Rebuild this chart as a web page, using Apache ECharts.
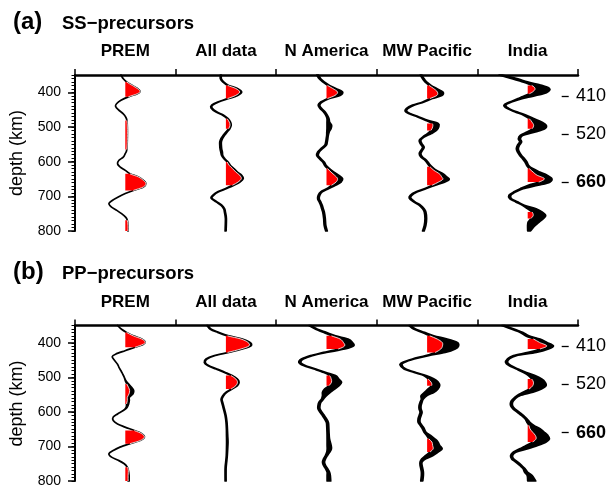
<!DOCTYPE html>
<html>
<head>
<meta charset="utf-8">
<script src="https://cdn.jsdelivr.net/npm/echarts@6/dist/echarts.min.js"></script>
<style>
  html, body { margin: 0; padding: 0; background: #fff; }
  #chart { width: 615px; height: 488px; }
</style>
</head>
<body>
<div id="chart"></div>
<script>
// Stacked receiver-function style traces: [depth km, mean amplitude, half-width of uncertainty]
const COLUMNS = ['PREM', 'All data', 'N America', 'MW Pacific', 'India'];
const DEPTH_TICKS = [400, 500, 600, 700, 800];
const DISCONTINUITIES = [410, 520, 660];

// SS precursors
const ssPrem = [[350,-4.3,0],[361,-2,0],[370,1.3,0],[380,7,0],[389,12,0],[397,14.7,0],[404,12,0],[413,3,0],[423,-4.3,0],[433,-8.7,0],[440,-9.7,0],[450,-7,0],[462,-2,0],[471,0.3,0],[481,1.6,0],[500,2.0,0],[530,2.0,0],[565,1.5,0],[578,-0.3,0],[587,-2,0],[596,-6.3,0],[606,-7.7,0],[615,-5.3,0],[625,0,0],[635,4.7,0],[644,13,0],[654,18,0],[663,20.5,0],[673,18,0],[683,8,0],[692,0,0],[702,-7,0],[712,-13,0],[721,-16.3,0],[731,-13.7,0],[740,-8.7,0],[750,-3.7,0],[760,0.3,0],[769,2,0],[784,2.7,0],[800,2.7,0]];
const ssAll = [[350,-5,0.5],[361,-5,0.5],[370,-2.7,0.5],[380,2.3,0.5],[389,10.7,0.8],[399,14.7,1],[409,10.7,1],[418,2.3,0.6],[428,-7.7,0.5],[437,-13.7,0.5],[445,-14.3,0.5],[457,-9.3,0.5],[466,-2.7,0.5],[476,1.7,0.5],[486,4,0.6],[495,4.7,0.6],[505,3.3,0.6],[514,0.7,0.6],[524,-2,0.7],[534,-4.3,0.8],[543,-5.3,0.8],[553,-5.3,0.8],[563,-5,0.8],[572,-4.3,0.8],[582,-3.7,0.6],[591,-1.7,0.5],[601,1.7,0.5],[611,4,0.6],[620,7.3,0.7],[630,10.7,0.8],[639,14.7,1],[649,16.3,1],[659,13,1],[668,7.3,0.8],[678,-0.3,0.5],[687,-7.7,0.5],[697,-12.7,0.5],[705,-14.3,0.5],[716,-9.3,0.5],[726,-4.3,0.5],[736,-1.7,0.5],[745,-1,0.5],[764,0,0.5],[800,-0.3,0.5]];
const ssNAm = [[350,-8.8,0.8],[361,-6.5,0.8],[370,-3,0.8],[380,2,1],[389,7.8,1.5],[399,13.5,2.5],[409,11,2.5],[418,2,1],[428,-5,0.8],[437,-7.5,0.8],[447,-5.5,0.8],[457,-2,0.8],[466,0,0.8],[476,1.5,1],[486,1.8,1.3],[495,2.8,2.3],[505,2.5,2],[514,1.5,1.2],[524,1,0.8],[534,0.5,0.8],[543,0,0.8],[553,-1,0.8],[563,-5,0.8],[572,-8,0.8],[582,-9,0.8],[591,-6.5,0.8],[601,-3,0.8],[611,-1,0.8],[620,2,1],[630,6,1.5],[639,10,2],[649,13.5,2.5],[659,12,2.5],[668,7,2],[678,1,1],[687,-5,0.8],[697,-7.5,0.8],[707,-8,0.8],[716,-6.5,0.8],[726,-5,0.8],[736,-4,0.8],[745,-3,0.8],[764,-2,0.8],[784,-1.5,0.8],[800,0,0.8]];
const ssMWP = [[350,-6,0.8],[361,-3.7,0.8],[370,-1.3,0.8],[380,3,1],[389,8,1.5],[399,13,2.8],[409,12.2,2.5],[418,4,1.2],[428,-3.7,0.8],[437,-13.7,0.8],[447,-20,0.8],[455,-21,0.8],[462,-17,0.8],[471,-8.7,0.8],[481,-0.3,1],[490,8,3],[500,8.5,3],[510,6.5,2.8],[519,2.3,2],[529,-3.7,0.8],[538,-7,0.8],[548,-6,0.8],[558,-3.7,0.8],[567,-5.3,0.8],[577,-7,0.8],[587,-5.3,0.8],[596,-1.3,0.8],[606,1.3,0.8],[615,4,1],[625,8,1.2],[635,14,1.8],[644,17,2.5],[651,18.8,3.2],[659,14.3,3],[668,6.7,1.7],[678,-2,0.8],[687,-10.3,0.8],[697,-16,0.8],[705,-17,0.8],[716,-12.7,0.8],[726,-7,0.8],[736,-3.7,0.8],[745,-2,0.8],[764,-1.3,0.8],[784,-2,0.8],[800,-3.7,0.8]];
const ssIndia = [[350,-27,1.5],[361,-12.7,3],[370,-2.7,2.5],[380,9,5],[389,14.5,7.2],[397,13.2,7.5],[404,8.7,7],[413,-1.8,4],[418,-7.7,2],[428,-17,1],[437,-22.7,1],[447,-19.3,1],[457,-11,1],[466,-2.7,1.5],[476,4,2.5],[486,9.3,5],[495,12.2,6.3],[505,10.7,6.3],[514,3.7,4],[524,-6,1.5],[534,-8.3,1],[543,-7,1],[553,-9.3,1],[563,-10.3,1],[572,-9.3,1],[582,-7,1],[591,-4.3,1],[601,-1.7,1],[611,0,1],[620,3.3,1.7],[630,8.7,3.3],[639,14.3,5],[649,20.3,3.7],[659,16.5,5.5],[668,5.5,5],[678,-6,1.5],[687,-12.7,1],[697,-17.7,1],[707,-17,1],[716,-11,1],[726,-4.3,1],[736,4.2,4.2],[745,9.3,5],[755,11.7,6.2],[764,9.5,6.3],[774,6,5.5],[784,3.7,3.8],[800,1.3,1.3]];

// PP precursors
const ppPrem = [[350,-7.7,0],[361,-3.7,0],[370,1.3,0],[380,8,0],[389,16.3,0],[397,19.7,0],[404,18,0],[413,9.7,0],[423,-0.3,0],[433,-9.7,0],[440,-13,0],[450,-11,0],[462,-7.7,0],[471,-6.3,0],[481,-4.3,0],[490,-2.7,0],[500,-1,0],[510,0.3,0.3],[519,2.3,0.8],[529,4.7,1.5],[538,6.3,2],[548,5.7,2],[558,3,1],[567,3,1],[577,2.3,1],[587,1.3,0.5],[596,-2,0],[606,-7.7,0],[615,-12,0],[625,-12,0],[635,-7.7,0],[644,-0.3,0],[654,9,0],[663,16.3,0],[673,19,0],[683,14.7,0],[692,4.7,0],[702,-5.3,0],[712,-12,0],[721,-16.3,0],[731,-13.7,0],[740,-7,0],[750,-1,0],[760,2,0],[769,3,0],[784,3.3,0.5],[800,3.3,0.5]];
const ppAll = [[350,-18.3,0.5],[361,-15,0.5],[370,-7.7,0.5],[380,2.3,0.6],[389,15.7,0.8],[399,23,1],[409,24,1],[418,15.7,0.8],[428,2.3,0.6],[437,-11,0.5],[447,-19.3,0.5],[457,-21,0.5],[466,-17.7,0.5],[476,-9.3,0.5],[486,-1,0.5],[495,5.7,0.6],[505,10.7,0.8],[514,12.3,0.8],[524,10.7,0.8],[534,5.7,0.6],[543,0.7,0.5],[553,-2.7,0.5],[563,-4.3,0.5],[572,-3.7,0.5],[591,-2,0.5],[611,-0.3,0.5],[630,0.6,0.5],[649,1.0,0.5],[668,1.2,0.6],[687,1.4,0.7],[707,1.2,0.6],[726,0.9,0.5],[745,0.3,0.5],[764,-0.3,0.5],[800,-0.3,0.5]];
const ppNAm = [[350,-16.5,1],[361,-9.8,1],[370,-1.5,1.2],[380,7,2],[389,17.5,4],[399,21.3,4.5],[409,22.5,4.5],[418,15,3.3],[428,-1.5,1.5],[437,-15,1],[447,-24,1],[457,-26.5,1],[466,-22,1],[476,-11.5,1],[486,-1.5,1.2],[495,6,3],[505,8.5,3.8],[514,10,5],[524,7.5,5],[534,3,5],[543,0,4],[553,-2,2],[563,-4,1],[572,-6.5,1],[582,-7.5,1],[591,-7.5,1],[601,-5.5,1],[611,-3,1],[620,-1,1],[630,0.8,1],[639,1.2,1],[659,1.5,1],[678,1.8,1.2],[697,2.6,2],[707,2.8,2.1],[716,1.8,1.5],[726,0,1],[736,-2,1],[745,-3,1],[755,-2,1],[764,0,1],[774,1.8,1.2],[784,2.2,1.6],[800,2.4,1.8]];
const ppMWP = [[350,-17,1],[361,-12,1],[370,-3.7,1.2],[380,4.7,2],[389,15,5],[399,22.5,7.5],[409,23.3,8],[418,20.8,7.2],[428,13,5],[437,0,1.5],[447,-13.7,1],[457,-23.7,1],[464,-26,1],[476,-22,1],[486,-12,1],[495,-2,1],[505,4,3],[514,7.5,3.5],[524,8.5,4],[534,5.7,5],[543,2.3,4.7],[553,-3,3],[563,-4.7,1],[572,-6,1],[582,-7,1],[591,-7,1],[601,-6,1],[611,-7,1],[620,-8,1],[630,-8,1],[639,-6,1],[649,-3.7,1],[659,-2,1],[668,1.5,2],[678,4.7,3],[687,7.8,3],[697,9,3.5],[707,10.5,4.5],[716,7,4],[726,2.3,3.7],[736,-3.3,2],[745,-6,1],[755,-6,1],[764,-5.3,1],[774,-4.7,1],[784,-4.7,1],[800,-5.3,1]];
const ppIndia = [[350,-24.3,1.5],[361,-14.3,1.5],[370,-6,1.5],[380,-0.3,1.5],[389,9,3.3],[399,15.5,3.7],[409,22.3,3.3],[418,16.5,4.2],[428,4.5,4],[437,-12.7,1.5],[447,-19.3,1],[457,-21,1],[466,-17.7,1],[476,-10.3,1],[486,-2.7,1.5],[495,4,3.3],[505,9,5],[514,11.5,5.8],[524,11.7,6.7],[534,7.5,6.2],[543,0.3,5],[553,-9.3,1.5],[563,-13.7,1],[572,-16,1],[582,-16,1],[591,-13.7,1],[601,-9.3,1],[611,-5,1],[620,-1.7,1],[630,0.7,1.5],[639,3.7,2.5],[649,7.3,5],[659,10.8,5.8],[668,13.8,6.2],[678,15,6.7],[687,11.7,6.7],[697,4.2,5.8],[707,-4.3,3.7],[716,-12.7,1.5],[726,-16,1],[736,-15,1],[745,-11,1],[755,-7,1],[764,-3.7,1],[774,-1.7,1.5],[784,2,2.5],[800,4,4]];

const PANELS = [
  { label: '(a)', title: 'SS\u2212precursors', traces: [ssPrem, ssAll, ssNAm, ssMWP, ssIndia] },
  { label: '(b)', title: 'PP\u2212precursors', traces: [ppPrem, ppAll, ppNAm, ppMWP, ppIndia] }
];

const FONT = 'Liberation Sans, Arial, sans-serif';
const RED_MIN = 0.8;      // lower bound must exceed this to be shaded red
const GRID_TOPS = [75, 325.5];

// Catmull-Rom segment from pts[i] to pts[i+1] as a cubic Bezier command
function seg(pts, i) {
  const p0 = pts[Math.max(i - 1, 0)], p1 = pts[i], p2 = pts[i + 1], p3 = pts[Math.min(i + 2, pts.length - 1)];
  const c1 = [p1[0] + (p2[0] - p0[0]) / 6, p1[1] + (p2[1] - p0[1]) / 6];
  const c2 = [p2[0] - (p3[0] - p1[0]) / 6, p2[1] - (p3[1] - p1[1]) / 6];
  return 'C' + c1[0].toFixed(2) + ',' + c1[1].toFixed(2) + ' ' + c2[0].toFixed(2) + ',' + c2[1].toFixed(2) + ' ' + p2[0].toFixed(2) + ',' + p2[1].toFixed(2);
}
const pt = p => p[0].toFixed(2) + ',' + p[1].toFixed(2);

function traceSeries(rows, col, g) {
  return {
    type: 'custom',
    coordinateSystem: 'cartesian2d',
    xAxisIndex: g * 2,
    yAxisIndex: g * 3,
    silent: true,
    clip: false,
    data: [[50 + 100 * col, 575]],
    renderItem: function (params, api) {
      const base = 50 + 100 * col;
      const up = rows.map(r => api.coord([base + r[1] + r[2], r[0]]));
      const lo = rows.map(r => api.coord([base + r[1] - r[2], r[0]]));
      const loRev = lo.slice().reverse();
      let band = 'M' + pt(up[0]);
      for (let i = 0; i < up.length - 1; i++) band += seg(up, i);
      band += 'L' + pt(loRev[0]);
      for (let i = 0; i < loRev.length - 1; i++) band += seg(loRev, i);
      band += 'Z';
      const children = [{
        type: 'path',
        shape: { pathData: band },
        style: { fill: '#000', stroke: '#000', lineWidth: 1.7, lineJoin: 'round' }
      }];
      // red shading where the lower bound stays positive, edged by a thin white line
      let i = 0;
      while (i < rows.length) {
        if (rows[i][1] - rows[i][2] > RED_MIN) {
          let j = i;
          while (j + 1 < rows.length && rows[j + 1][1] - rows[j + 1][2] > RED_MIN) j++;
          const b0 = api.coord([base, rows[i][0]]);
          const b1 = api.coord([base, rows[j][0]]);
          let edge = 'M' + pt(lo[i]);
          for (let k = i; k < j; k++) edge += seg(lo, k);
          const fill = 'M' + pt(b0) + 'L' + edge.slice(1) + 'L' + pt(b1) + 'Z';
          children.push({
            type: 'path',
            shape: { pathData: fill },
            style: { fill: '#ff0000', stroke: null }
          });
          children.push({
            type: 'path',
            shape: { pathData: edge },
            style: { fill: null, stroke: '#fff', lineWidth: 0.8 }
          });
          i = j + 1;
        } else {
          i++;
        }
      }
      return { type: 'group', children: children };
    }
  };
}

const grids = [], xAxes = [], yAxes = [], series = [], titles = [], graphics = [];
PANELS.forEach((panel, g) => {
  const top = GRID_TOPS[g];
  grids.push({ left: 75, width: 503, top: top, height: 156 });
  xAxes.push({
    gridIndex: g, type: 'value', position: 'top', min: 0, max: 500, interval: 100,
    axisLine: { show: true, onZero: false, lineStyle: { color: '#000', width: 2.5 } },
    axisTick: { show: true, length: 6, lineStyle: { color: '#000', width: 1.5 } },
    axisLabel: { show: false }, splitLine: { show: false }
  });
  xAxes.push({
    gridIndex: g, type: 'category', position: 'top', data: COLUMNS, boundaryGap: true,
    axisLine: { show: false }, axisTick: { show: false }, splitLine: { show: false },
    axisLabel: { interval: 0, margin: 15, color: '#000', fontFamily: FONT, fontWeight: 'bold', fontSize: 17 }
  });
  yAxes.push({
    gridIndex: g, type: 'value', position: 'left', inverse: true, min: 350, max: 800, interval: 10,
    axisLine: { show: true, onZero: false, lineStyle: { color: '#000', width: 2 } },
    axisTick: { show: true, length: 3.5, lineStyle: { color: '#000', width: 1 } },
    axisLabel: { show: false }, splitLine: { show: false }
  });
  yAxes.push({
    gridIndex: g, type: 'value', position: 'left', inverse: true, min: 350, max: 800,
    axisLine: { show: false, onZero: false },
    axisTick: { show: true, length: 7, customValues: DEPTH_TICKS, lineStyle: { color: '#000', width: 1.5 } },
    axisLabel: { customValues: DEPTH_TICKS, margin: 14, color: '#000', fontFamily: FONT, fontSize: 14 },
    splitLine: { show: false }
  });
  yAxes.push({
    gridIndex: g, type: 'value', position: 'right', offset: -16.3, inverse: true, min: 350, max: 800,
    axisLine: { show: false, onZero: false },
    axisTick: { show: true, length: 7, customValues: DISCONTINUITIES, lineStyle: { color: '#000', width: 1.3 } },
    axisLabel: {
      customValues: DISCONTINUITIES, margin: 14.3, color: '#000', fontFamily: FONT, fontSize: 18,
      formatter: v => (v === 660 ? '{b|660}' : String(v)),
      rich: { b: { fontFamily: FONT, fontSize: 18, fontWeight: 'bold', color: '#000' } }
    },
    splitLine: { show: false }
  });
  panel.traces.forEach((rows, col) => series.push(traceSeries(rows, col, g)));
  titles.push({
    text: panel.label, left: 13, top: top - 65, padding: 0,
    textStyle: { fontFamily: FONT, fontWeight: 'bold', fontSize: 24, lineHeight: 24, color: '#000' }
  });
  titles.push({
    text: panel.title, left: 62, top: top - 60.5, padding: 0,
    textStyle: { fontFamily: FONT, fontWeight: 'bold', fontSize: 18.5, lineHeight: 18.5, color: '#000' }
  });
  graphics.push({
    type: 'text', x: 17, y: top + 78, rotation: Math.PI / 2,
    style: { text: 'depth (km)', font: '18px ' + FONT, fill: '#000', align: 'center', verticalAlign: 'middle' }
  });
});

const chart = echarts.init(document.getElementById('chart'), null, { renderer: 'canvas' });
chart.setOption({
  animation: false,
  backgroundColor: '#fff',
  title: titles,
  grid: grids,
  xAxis: xAxes,
  yAxis: yAxes,
  series: series,
  graphic: graphics
});
</script>
</body>
</html>
